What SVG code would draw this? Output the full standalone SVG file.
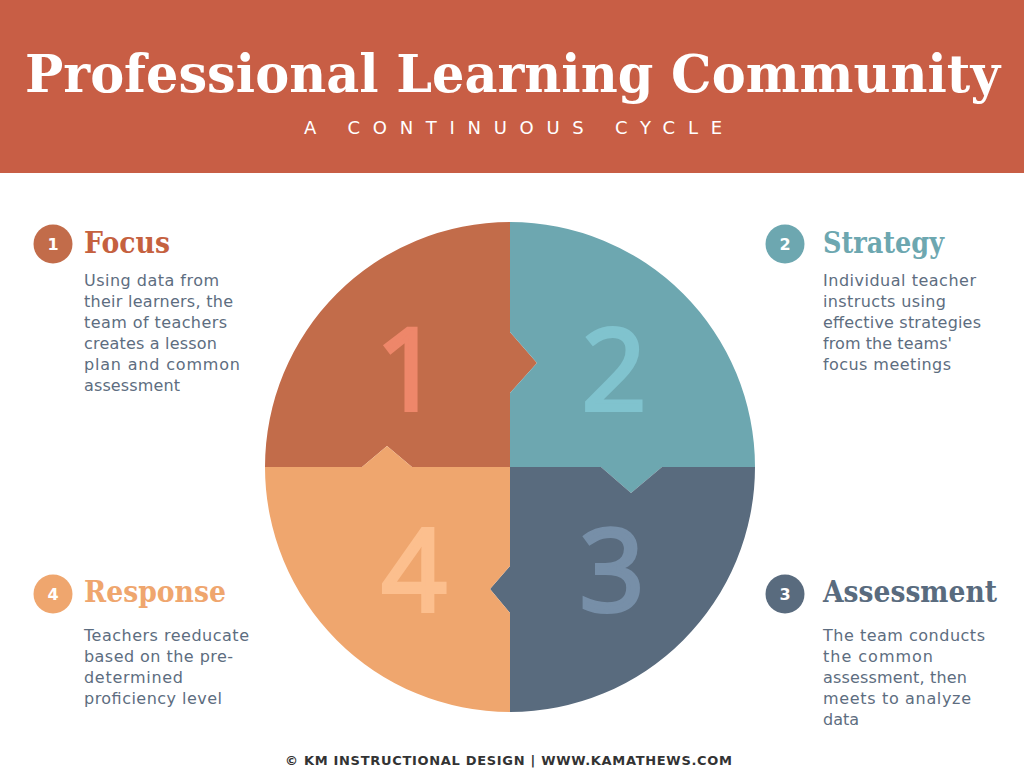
<svg xmlns="http://www.w3.org/2000/svg" width="1024" height="768" viewBox="0 0 1024 768">
<style>
.title{font-family:"DejaVu Serif","Liberation Serif",serif;font-weight:bold;fill:#fff}
.sub{font-family:"DejaVu Sans","Liberation Sans",sans-serif;font-size:18px;fill:#fff}
.head{font-family:"DejaVu Serif","Liberation Serif",serif;font-weight:bold;font-size:29px}
.body{font-family:"DejaVu Sans","Liberation Sans",sans-serif;font-size:16px;fill:#5D6D80}
.badge{font-family:"DejaVu Sans","Liberation Sans",sans-serif;font-weight:bold;font-size:16px;fill:#fff;text-anchor:middle}
.big{font-family:"Open Sans","DejaVu Sans",sans-serif;font-weight:normal;font-size:114px;text-anchor:middle;stroke-width:4;stroke-linejoin:miter}
.foot{font-family:"DejaVu Sans","Liberation Sans",sans-serif;font-weight:bold;font-size:13px;fill:#333}
</style>
<rect width="1024" height="768" fill="#fff"/>
<g id="header">
<rect x="0" y="0" width="1024" height="173" fill="#C85E45"/>
<text class="title" x="25" y="92" font-size="52" textLength="975" lengthAdjust="spacingAndGlyphs">Professional Learning Community</text>
<text class="sub" x="304" y="134" textLength="418" lengthAdjust="spacing">A CONTINUOUS CYCLE</text>
</g>
<g id="cycle">
<path id="q1" fill="#C26C4A" d="M510 222 L510 332 L537 363 L510 393 L510 467 L412 467 L387 446 L362 467 L265 467 A245 245 0 0 1 510 222 Z"/>
<path id="q2" fill="#6DA7B0" d="M510 222 A245 245 0 0 1 755 467 L662 467 L631 493 L601 467 L510 467 L510 393 L537 363 L510 332 Z"/>
<path id="q3" fill="#596B7E" d="M755 467 A245 245 0 0 1 510 712 L510 613 L490 589 L510 566 L510 467 L601 467 L631 493 L662 467 Z"/>
<path id="q4" fill="#EFA66E" d="M510 712 A245 245 0 0 1 265 467 L362 467 L387 446 L412 467 L510 467 L510 566 L490 589 L510 613 Z"/>
<text class="big" x="408" y="410" fill="#EE876A" stroke="#EE876A">1</text>
<text class="big" x="614" y="410" fill="#80C3CE" stroke="#80C3CE">2</text>
<text class="big" x="612" y="611" fill="#778FA8" stroke="#778FA8">3</text>
<text class="big" x="414" y="611" fill="#FCBF8E" stroke="#FCBF8E">4</text>
</g>
<g id="focus">
<circle cx="53" cy="244" r="19.5" fill="#C26C4A"/>
<text class="badge" x="53" y="250">1</text>
<text class="head" x="84" y="253" fill="#C5613F" textLength="86" lengthAdjust="spacingAndGlyphs">Focus</text>
<text class="body" x="84" y="286" textLength="135" lengthAdjust="spacing">Using data from</text>
<text class="body" x="84" y="307" textLength="149" lengthAdjust="spacing">their learners, the</text>
<text class="body" x="84" y="328" textLength="143" lengthAdjust="spacing">team of teachers</text>
<text class="body" x="84" y="349" textLength="133" lengthAdjust="spacing">creates a lesson</text>
<text class="body" x="84" y="370" textLength="156" lengthAdjust="spacing">plan and common</text>
<text class="body" x="84" y="391" textLength="96" lengthAdjust="spacing">assessment</text>
</g>
<g id="strategy">
<circle cx="785" cy="244" r="19.5" fill="#6DA7B0"/>
<text class="badge" x="785" y="250">2</text>
<text class="head" x="823" y="253" fill="#6DA7B0" textLength="121" lengthAdjust="spacingAndGlyphs">Strategy</text>
<text class="body" x="823" y="286" textLength="153" lengthAdjust="spacing">Individual teacher</text>
<text class="body" x="823" y="307" textLength="123" lengthAdjust="spacing">instructs using</text>
<text class="body" x="823" y="328" textLength="158" lengthAdjust="spacing">effective strategies</text>
<text class="body" x="823" y="349" textLength="129" lengthAdjust="spacing">from the teams'</text>
<text class="body" x="823" y="370" textLength="128" lengthAdjust="spacing">focus meetings</text>
</g>
<g id="assessment">
<circle cx="785" cy="594" r="19.5" fill="#596B7E"/>
<text class="badge" x="785" y="600">3</text>
<text class="head" x="823" y="602" fill="#596B7E" textLength="174" lengthAdjust="spacingAndGlyphs">Assessment</text>
<text class="body" x="823" y="641" textLength="162" lengthAdjust="spacing">The team conducts</text>
<text class="body" x="823" y="662" textLength="110" lengthAdjust="spacing">the common</text>
<text class="body" x="823" y="683" textLength="144" lengthAdjust="spacing">assessment, then</text>
<text class="body" x="823" y="704" textLength="148" lengthAdjust="spacing">meets to analyze</text>
<text class="body" x="823" y="725" textLength="36" lengthAdjust="spacing">data</text>
</g>
<g id="response">
<circle cx="53" cy="594" r="19.5" fill="#EFA66E"/>
<text class="badge" x="53" y="600">4</text>
<text class="head" x="84" y="602" fill="#EFA66E" textLength="142" lengthAdjust="spacingAndGlyphs">Response</text>
<text class="body" x="84" y="641" textLength="165" lengthAdjust="spacing">Teachers reeducate</text>
<text class="body" x="84" y="662" textLength="149" lengthAdjust="spacing">based on the pre-</text>
<text class="body" x="84" y="683" textLength="99" lengthAdjust="spacing">determined</text>
<text class="body" x="84" y="704" textLength="138" lengthAdjust="spacing">proficiency level</text>
</g>
<g id="footer">
<text class="foot" x="285" y="765" textLength="447" lengthAdjust="spacing">© KM INSTRUCTIONAL DESIGN | WWW.KAMATHEWS.COM</text>
</g>
</svg>
